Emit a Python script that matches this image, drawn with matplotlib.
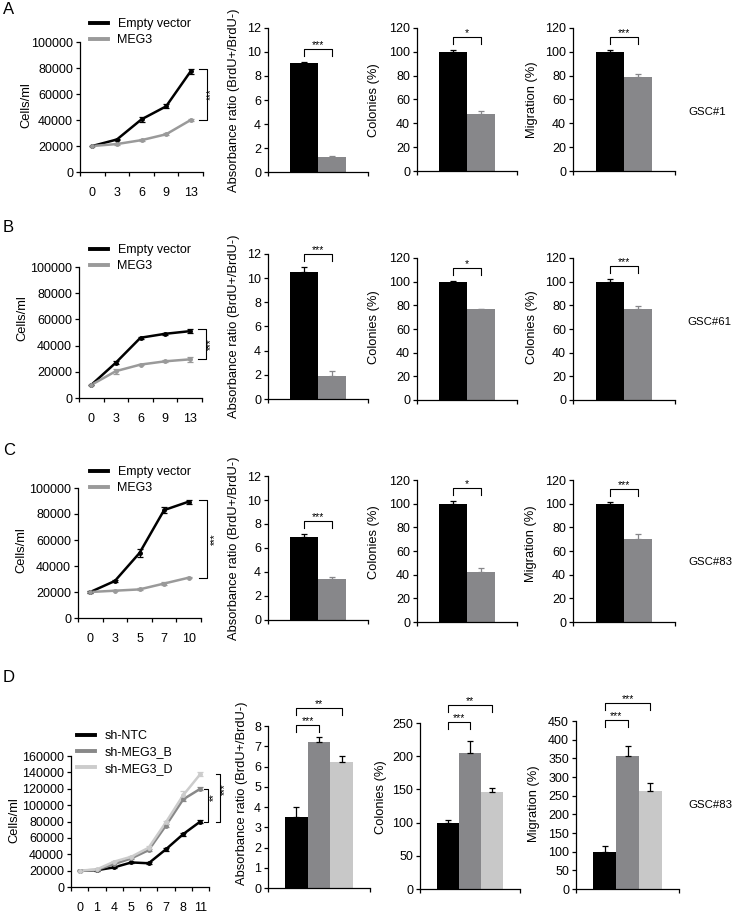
import numpy as np
import matplotlib
matplotlib.use('Agg')
import matplotlib.pyplot as plt

plt.rcParams['font.family'] = ['Liberation Sans', 'DejaVu Sans']
plt.rcParams['font.size'] = 9

# ====== data ======
days_A = ['0', '3', '6', '9', '13']
ev_A = [20000, 25000, 40500, 50500, 77500]
ev_A_err = [300, 700, 2000, 1500, 2000]
meg3_A = [20000, 21500, 24500, 29000, 40000]
meg3_A_err = [300, 500, 700, 700, 500]

days_B = ['0', '3', '6', '9', '13']
ev_B = [10000, 27000, 46000, 49000, 51000]
ev_B_err = [300, 1000, 800, 1000, 1500]
meg3_B = [10000, 20500, 25500, 28000, 29500]
meg3_B_err = [300, 2000, 500, 700, 2000]

days_C = ['0', '3', '5', '7', '10']
ev_C = [20000, 28500, 50000, 83000, 89500]
ev_C_err = [500, 500, 3000, 2000, 1500]
meg3_C = [20000, 21000, 22000, 26500, 31000]
meg3_C_err = [300, 500, 700, 1000, 500]

days_D = ['0', '1', '4', '5', '6', '7', '8', '11']
ntc_D = [20000, 20500, 24000, 30000, 29000, 46000, 64500, 80000]
ntc_D_err = [500, 500, 1000, 1000, 1000, 1500, 2000, 1500]
shB_D = [20000, 21000, 28000, 35000, 45000, 75000, 107000, 120000]
shB_D_err = [500, 500, 1000, 1000, 1500, 2000, 2500, 2000]
shD_D = [20000, 21500, 31000, 37000, 48000, 79000, 112000, 138000]
shD_D_err = [500, 500, 1000, 1000, 1500, 2000, 5000, 2000]

brdu_A, brdu_A_err = [9.1, 1.25], [0.05, 0.1]
col_A, col_A_err = [100, 47.5], [1.5, 2.5]
mig_A, mig_A_err = [100, 78.5], [1.3, 2.5]

brdu_B, brdu_B_err = [10.55, 1.9], [0.4, 0.4]
col_B, col_B_err = [100, 76.5], [0.8, 0.5]
col2_B, col2_B_err = [100, 76.5], [2.5, 3.0]

brdu_C, brdu_C_err = [6.9, 3.4], [0.25, 0.2]
col_C, col_C_err = [100, 42], [2.5, 3.5]
mig_C, mig_C_err = [100, 70.5], [1.5, 3.5]

brdu_D, brdu_D_err = [3.5, 7.2, 6.2], [0.5, 0.25, 0.3]
col_D, col_D_err = [100, 205, 146], [4, 18, 6]
mig_D, mig_D_err = [100, 357, 262], [15, 25, 22]

BLACK = '#000000'
GRAY = '#87878a'
LGRAY = '#c8c8c8'
LINE_GRAY = '#9a9a9a'

W, H = 734, 913
fig = plt.figure(figsize=(W / 100, H / 100), dpi=100)
fig.patch.set_facecolor('white')


def add_ax(l, t, r, b):
    return fig.add_axes([l / W, 1 - b / H, (r - l) / W, (b - t) / H])


def style(ax):
    for s in ['top', 'right']:
        ax.spines[s].set_visible(False)
    for s in ['left', 'bottom']:
        ax.spines[s].set_linewidth(0.9)
    ax.tick_params(direction='out', length=3, width=0.9, pad=2, labelsize=9)
    ax.patch.set_alpha(0)


def ylabel_at(ax, text, xr, yc):
    ax.set_ylabel(text, fontsize=9.3)
    ax.yaxis.set_label_coords(xr / W, 1 - yc / H, transform=fig.transFigure)


def px_per_unit(ax):
    ymin, ymax = ax.get_ylim()
    return ax.get_position().height * H / (ymax - ymin)


# ====== line chart ======
def line_panel(box, xlabels, series, ymax, legend_xy, brackets, ylab):
    ax = add_ax(*box)
    style(ax)
    x = np.arange(len(xlabels))
    for name, vals, errs, color in series:
        ax.plot(x, vals, color=color, lw=1.8, label=name)
        ax.errorbar(x, vals, yerr=errs, fmt='o', color=color, ms=2.5,
                    capsize=2, elinewidth=0.9, capthick=0.9)
    ax.set_xlim(-0.5, len(x) - 0.5)
    ax.set_ylim(0, ymax)
    ax.set_yticks(np.arange(0, ymax + 1, 20000))
    ax.set_xticks(np.arange(-0.5, len(x)))
    ax.set_xticks(x, minor=True)
    ax.set_xticklabels(xlabels, minor=True)
    ax.tick_params(axis='x', which='major', labelbottom=False)
    ax.tick_params(axis='x', which='minor', length=0, pad=11)
    ylabel_at(ax, 'Cells/ml', *ylab)
    leg = ax.legend(loc='upper left', bbox_to_anchor=(legend_xy[0] / W, 1 - legend_xy[1] / H),
                    bbox_transform=fig.transFigure, frameon=False, borderpad=0,
                    borderaxespad=0, handlelength=1.45, handletextpad=0.75,
                    labelspacing=0.35, fontsize=9)
    for ln in leg.get_lines():
        ln.set_linewidth(2.8)
    n = len(x) - 1
    for i_hi, i_lo, xv, xs, txt in brackets:
        s_hi, s_lo = series[i_hi], series[i_lo]
        y0 = s_hi[1][-1] + s_hi[2][-1]
        y1 = s_lo[1][-1]
        x0 = n + 0.5 + xv - 0.32
        x1 = n + 0.5 + xv
        ax.plot([x0, x1, x1, x0], [y0, y0, y1, y1], color='k', lw=0.8, clip_on=False)
        ax.text(n + 0.5 + xs, (y0 + y1) / 2, txt, rotation=90, ha='center',
                va='center', fontsize=7, clip_on=False)
    return ax


# ====== bar chart ======
def bar_panel(box, vals, errs, colors, ymax, ystep, ylab_text, ylab, brackets,
              err_colors=None):
    ax = add_ax(*box)
    style(ax)
    n = len(vals)
    x = np.arange(n)
    for i in range(n):
        ec = err_colors[i] if err_colors else colors[i]
        ax.bar(x[i], vals[i], width=1.0, color=colors[i], linewidth=0,
               yerr=[[0], [errs[i]]], error_kw=dict(ecolor=ec, elinewidth=0.9,
                                                    capsize=2.5, capthick=0.9))
    pad = 1.25 if n == 3 else 1.29
    ax.set_xlim(-pad, n - 1 + pad)
    ax.set_ylim(0, ymax)
    ax.set_yticks(np.arange(0, ymax + 0.001, ystep))
    ax.set_xticks([-pad, n - 1 + pad])
    ax.set_xticklabels([])
    ylabel_at(ax, ylab_text, *ylab)
    ppu = px_per_unit(ax)
    for i, j, txt in brackets:
        base = max(vals[i] + errs[i], vals[j] + errs[j]) + 6 / ppu
        draw_bracket(ax, i, j, base, txt)
    return ax


def draw_bracket(ax, i, j, base, txt):
    ppu = px_per_unit(ax)
    top = base + 7 / ppu
    ax.plot([i, i, j, j], [base, top, top, base], color='k', lw=0.8, clip_on=False)
    ax.text((i + j) / 2, top + 1 / ppu, txt, ha='center', va='baseline',
            fontsize=7.5, clip_on=False)


def d_levels(ax):
    # two bracket levels just below / above the top of the y axis
    ppu = px_per_unit(ax)
    inner = ax.get_ylim()[1] - 6 / ppu
    return inner, inner + 17 / ppu


def side_text(x, y, txt, size=8.2):
    fig.text(x / W, 1 - y / H, txt, ha='left', va='center', fontsize=size)


# ---- Row A ----
side_text(3, 10, 'A', 12)
line_panel((80, 42, 203, 172), days_A,
           [('Empty vector', ev_A, ev_A_err, BLACK), ('MEG3', meg3_A, meg3_A_err, LINE_GRAY)],
           100000, (90, 18), [(0, 1, 0.16, 0.33, '***')], (32, 105))
bar_panel((268, 28, 368, 172), brdu_A, brdu_A_err, [BLACK, GRAY], 12, 2,
          'Absorbance ratio (BrdU+/BrdU-)', (240, 100), [(0, 1, '***')])
bar_panel((417, 28, 517, 171), col_A, col_A_err, [BLACK, GRAY], 120, 20,
          'Colonies (%)', (380, 100), [(0, 1, '*')])
bar_panel((573, 28, 675, 171), mig_A, mig_A_err, [BLACK, GRAY], 120, 20,
          'Migration (%)', (538, 100), [(0, 1, '***')])
side_text(688, 112, 'GSC#1')

# ---- Row B ----
side_text(3, 227, 'B', 12)
line_panel((79, 267, 202, 398), days_B,
           [('Empty vector', ev_B, ev_B_err, BLACK), ('MEG3', meg3_B, meg3_B_err, LINE_GRAY)],
           100000, (90, 244), [(0, 1, 0.16, 0.36, '***')], (28, 318))
bar_panel((268, 254, 368, 399), brdu_B, brdu_B_err, [BLACK, GRAY], 12, 2,
          'Absorbance ratio (BrdU+/BrdU-)', (240, 326), [(0, 1, '***')])
bar_panel((417, 258, 517, 400), col_B, col_B_err, [BLACK, GRAY], 120, 20,
          'Colonies (%)', (380, 327), [(0, 1, '*')])
bar_panel((573, 258, 675, 400), col2_B, col2_B_err, [BLACK, GRAY], 120, 20,
          'Colonies (%)', (538, 327), [(0, 1, '***')])
side_text(687, 322, 'GSC#61')

# ---- Row C ----
side_text(3, 450, 'C', 12)
line_panel((78, 488, 201, 618), days_C,
           [('Empty vector', ev_C, ev_C_err, BLACK), ('MEG3', meg3_C, meg3_C_err, LINE_GRAY)],
           100000, (90, 466), [(0, 1, 0.24, 0.57, '***')], (27, 550))
bar_panel((268, 476, 368, 620), brdu_C, brdu_C_err, [BLACK, GRAY], 12, 2,
          'Absorbance ratio (BrdU+/BrdU-)', (240, 548), [(0, 1, '***')])
bar_panel((417, 480, 517, 622), col_C, col_C_err, [BLACK, GRAY], 120, 20,
          'Colonies (%)', (380, 542), [(0, 1, '*')])
bar_panel((573, 480, 675, 622), mig_C, mig_C_err, [BLACK, GRAY], 120, 20,
          'Migration (%)', (537, 544), [(0, 1, '***')])
side_text(688, 562, 'GSC#83')

# ---- Row D ----
side_text(3, 677, 'D', 12)
axD = line_panel((71, 756, 209, 887), days_D,
                 [('sh-NTC', ntc_D, ntc_D_err, BLACK),
                  ('sh-MEG3_B', shB_D, shB_D_err, '#888888'),
                  ('sh-MEG3_D', shD_D, shD_D_err, '#cccccc')],
                 160000, (77, 730), [], (20, 820))
# brackets for D line chart (end points vs sh-NTC)
nD = len(days_D) - 1
for hi_vals, xv, xs, txt in [(shB_D, -0.06, 0.26, '**'),
                             (shD_D, 0.64, 0.93, '***')]:
    y0 = hi_vals[-1]
    y1 = ntc_D[-1]
    x1 = nD + 0.5 + xv
    x0 = x1 - 0.25
    axD.plot([x0, x1, x1, x0], [y0, y0, y1, y1], color='k', lw=0.8, clip_on=False)
    axD.text(nD + 0.5 + xs, (y0 + y1) / 2 + 10000, txt, rotation=90, ha='center',
             va='center', fontsize=7, clip_on=False)

d_colors = [BLACK, GRAY, LGRAY]
d_err = [BLACK, BLACK, BLACK]
d_stars = [('***', '**'), ('***', '**'), ('***', '***')]
d_panels = [((268, 726, 370, 888), brdu_D, brdu_D_err, 8, 1,
             'Absorbance ratio (BrdU+/BrdU-)', (248, 793)),
            ((420, 723, 520, 889), col_D, col_D_err, 250, 50, 'Colonies (%)', (387, 797)),
            ((576, 721, 679, 889), mig_D, mig_D_err, 450, 50, 'Migration (%)', (540, 804))]
for (box, vals, errs, ymax, ystep, lab, labpos), (s_in, s_out) in zip(d_panels, d_stars):
    ax = bar_panel(box, vals, errs, d_colors, ymax, ystep, lab, labpos, [], d_err)
    inner, outer = d_levels(ax)
    draw_bracket(ax, 0, 1, inner, s_in)
    draw_bracket(ax, 0, 2, outer, s_out)
side_text(688, 805, 'GSC#83')

fig.savefig('out.png', dpi=100, facecolor='white')
